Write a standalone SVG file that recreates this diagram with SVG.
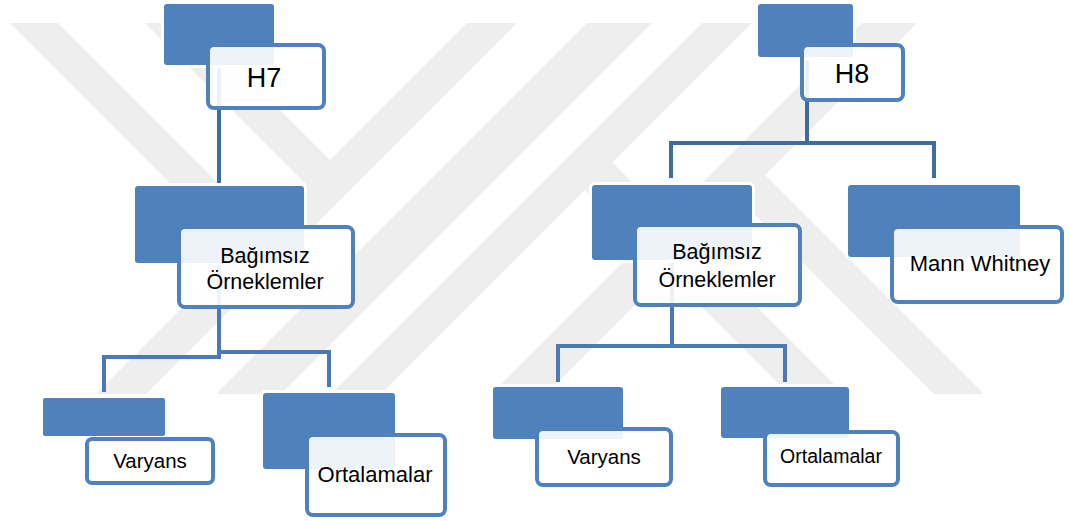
<svg xmlns="http://www.w3.org/2000/svg" width="1069" height="521" viewBox="0 0 1069 521">
<style>
.wm{fill:#eeeeee}
.blue{fill:#4f81bd;stroke:#ffffff;stroke-width:6;paint-order:stroke}
.box{fill:#ffffff;fill-opacity:0.9;stroke:#4f81bd;stroke-width:4}
.c1{fill:none;stroke:#3f6b9e;stroke-width:4}
.c2{fill:none;stroke:#4a7ab3;stroke-width:4}
text{font-family:"Liberation Sans",Arial,sans-serif;fill:#000;text-anchor:middle}
</style>
<rect width="1069" height="521" fill="#ffffff"/>
<g id="watermark">
<polygon class="wm" points="10,23 58,23 275,240 251,264"/>
<polygon class="wm" points="145,23 193,23 342,172 318,196"/>
<polygon class="wm" points="467,23 517,23 146,394 96,394"/>
<polygon class="wm" points="587,23 652,23 281,394 216,394"/>
<polygon class="wm" points="702,23 752,23 381,394 331,394"/>
<polygon class="wm" points="862,23 917,23 546,394 491,394"/>
<polygon class="wm" points="600,150 844,394 789,394 572.5,177.5"/>
<polygon class="wm" points="751.5,161.5 984,394 934,394 726.5,186.5"/>
</g>
<g id="connectors">
<path class="c1" d="M219,68 V186"/>
<path class="c2" d="M219,262 V357 H104 V392"/>
<path class="c2" d="M219,262 V352 H329 V387"/>
<path class="c1" d="M807,56 V143 H671 V178"/>
<path class="c1" d="M807,143 H934 V178"/>
<path class="c2" d="M672,258 V346 H558 V382"/>
<path class="c2" d="M672,346 H785 V382"/>
</g>
<g id="node-h7">
<rect class="blue" x="164" y="4" width="110" height="61" rx="3"/>
<rect class="box" x="208" y="45" width="116" height="63" rx="6"/>
<text x="264" y="87" font-size="27">H7</text>
</g>
<g id="node-bagimsiz-left">
<rect class="blue" x="135" y="186" width="169" height="77" rx="3"/>
<rect class="box" x="179" y="227" width="174" height="80" rx="6"/>
<text x="265" y="263" font-size="21.5">Bağımsız</text>
<text x="265" y="289" font-size="21.5">Örneklemler</text>
</g>
<g id="node-varyans-left">
<rect class="blue" x="43" y="398" width="122" height="38" rx="2"/>
<rect class="box" x="87" y="439" width="126" height="44" rx="5"/>
<text x="150" y="468" font-size="20.5">Varyans</text>
</g>
<g id="node-ortalamalar-left">
<rect class="blue" x="263" y="393" width="132" height="76" rx="3"/>
<rect class="box" x="307" y="435" width="138" height="80" rx="6"/>
<text x="375" y="482" font-size="22">Ortalamalar</text>
</g>
<g id="node-h8">
<rect class="blue" x="758" y="4" width="95" height="53" rx="3"/>
<rect class="box" x="802" y="45" width="101" height="55" rx="6"/>
<text x="852" y="83" font-size="27">H8</text>
</g>
<g id="node-bagimsiz-right">
<rect class="blue" x="592" y="185" width="160" height="75" rx="3"/>
<rect class="box" x="635" y="225" width="165" height="80" rx="6"/>
<text x="717" y="259" font-size="21.5">Bağımsız</text>
<text x="717" y="287" font-size="21.5">Örneklemler</text>
</g>
<g id="node-mann-whitney">
<rect class="blue" x="848" y="185" width="172" height="72" rx="3"/>
<rect class="box" x="892" y="227" width="170" height="75" rx="6"/>
<text x="980" y="271" font-size="22">Mann Whitney</text>
</g>
<g id="node-varyans-right">
<rect class="blue" x="493" y="387" width="130" height="52" rx="3"/>
<rect class="box" x="537" y="429" width="134" height="56" rx="6"/>
<text x="604" y="464" font-size="20.5">Varyans</text>
</g>
<g id="node-ortalamalar-right">
<rect class="blue" x="721" y="387" width="128" height="51" rx="3"/>
<rect class="box" x="765" y="432" width="133" height="53" rx="6"/>
<text x="831" y="463" font-size="19.5">Ortalamalar</text>
</g>
</svg>
